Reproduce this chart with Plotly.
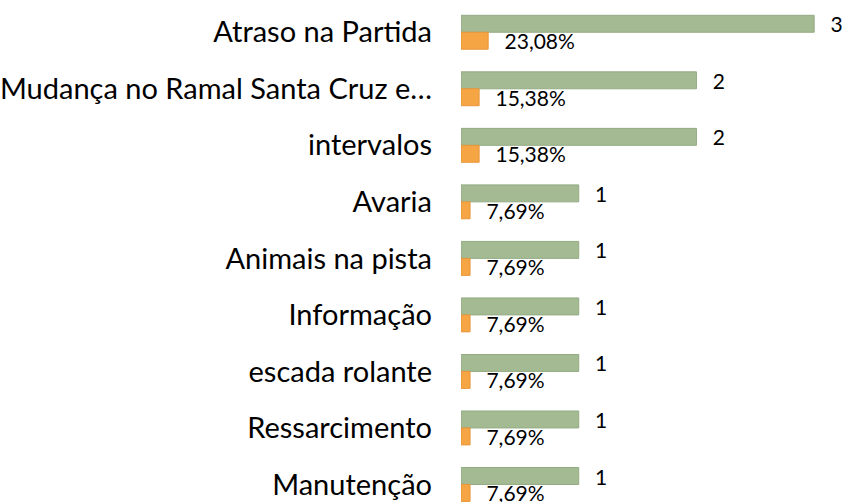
import plotly.graph_objects as go

categories = ["Atraso na Partida", "Mudança no Ramal Santa Cruz e…", "intervalos", "Avaria",
              "Animais na pista", "Informação", "escada rolante", "Ressarcimento", "Manutenção"]
counts = [3, 2, 2, 1, 1, 1, 1, 1, 1]
percents = [23.08, 15.38, 15.38, 7.69, 7.69, 7.69, 7.69, 7.69, 7.69]
percent_labels = ["23,08%", "15,38%", "15,38%", "7,69%", "7,69%", "7,69%", "7,69%", "7,69%", "7,69%"]

NB = "\u00a0\u00a0\u2009"
fig = go.Figure()
fig.add_trace(go.Bar(
    y=categories, x=counts, orientation="h",
    marker=dict(color="#A3BA92", line=dict(color="#93AB82", width=1)),
    text=[NB + str(c) for c in counts], textposition="outside",
    textfont=dict(family="Lato", size=21, color="#000000"),
    constraintext="none", cliponaxis=False,
))
fig.add_trace(go.Bar(
    y=categories, x=[p / 100 for p in percents], orientation="h",
    marker=dict(color="#F6A545", line=dict(color="#E8963A", width=1)),
    text=[NB + s for s in percent_labels], textposition="outside",
    textfont=dict(family="Lato", size=21, color="#000000"),
    constraintext="none", cliponaxis=False,
))
fig.update_layout(
    width=843, height=502,
    margin=dict(l=459, r=0, t=4, b=0),
    barmode="group", bargap=0.4, bargroupgap=0,
    showlegend=False,
    plot_bgcolor="white", paper_bgcolor="white",
    xaxis=dict(range=[0, 3.245], visible=False),
    yaxis=dict(range=[8.31, -0.5], showgrid=False, showline=False, ticks="",
               tickfont=dict(family="Lato", size=29, color="#000000"),
               ticklabelstandoff=28),
)
fig.write_html("out.html", config={"displayModeBar": False},
               post_script="document.body.style.margin='0';document.body.style.overflow='hidden';")
